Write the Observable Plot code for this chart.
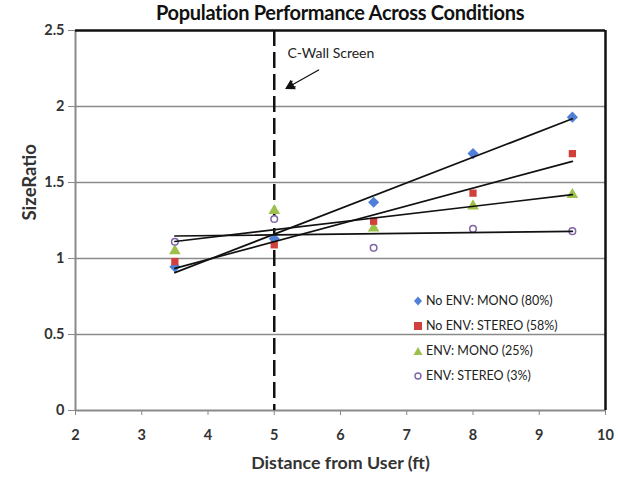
<!DOCTYPE html>
<html>
<head>
<meta charset="utf-8">
<script src="https://cdn.jsdelivr.net/npm/d3@7"></script>
<script src="https://cdn.jsdelivr.net/npm/@observablehq/plot@0.6"></script>
<style>
  html, body { margin: 0; padding: 0; background: #fff; }
  #wrap { position: relative; width: 618px; height: 482px; font-family: Lato, "Open Sans", sans-serif; }
  #title { height: 22px; line-height: 24px; text-align: center; font-weight: bold; font-size: 20px; color: #111; padding-left: 62px; letter-spacing: -0.3px; }
  #legend { position: absolute; left: 413px; top: 288px; font-size: 12.5px; color: #222; }
  #legend .row { height: 25px; display: flex; align-items: center; }
  #legend svg { margin-right: 3px; }
</style>
</head>
<body>
<div id="wrap">
  <div id="title">Population Performance Across Conditions</div>
  <div id="chart"></div>
  <div id="legend"></div>
</div>
<script>
const distances = [3.5, 5, 6.5, 8, 9.5];
const seriesNames = ["No ENV: MONO (80%)", "No ENV: STEREO (58%)", "ENV: MONO (25%)", "ENV: STEREO (3%)"];
const noEnvMono   = [0.945, 1.13, 1.37, 1.69, 1.93];
const noEnvStereo = [0.98, 1.09, 1.245, 1.43, 1.69];
const envMono     = [1.05, 1.315, 1.20, 1.345, 1.42];
const envStereo   = [1.11, 1.26, 1.07, 1.195, 1.18];
const symbols = ["diamond2", "square", "triangle", "circle"];
const colors  = ["#4f7fd6", "#d2403c", "#9cc04a", "#8064a8"];
const xTicks = [2, 3, 4, 5, 6, 7, 8, 9, 10];
const yTicks = [0, 0.5, 1, 1.5, 2, 2.5];
const screenX = 5;
const note = {label: "C-Wall Screen", x: 5.2, y: 2.35, ax1: 5.67, ay1: 2.24, ax2: 5.2, ay2: 2.125};

const all = [noEnvMono, noEnvStereo, envMono, envStereo];
const sizes = [5, 4.1, 4.3, 3.3];
const data = all.flatMap((vals, i) => vals.map((v, j) => ({series: seriesNames[i], idx: i, x: distances[j], y: v})));

const chart = Plot.plot({
  width: 618,
  height: 460,
  marginLeft: 75,
  marginRight: 13,
  marginTop: 8,
  marginBottom: 72,
  style: {fontFamily: "Lato, 'Open Sans', sans-serif", background: "white"},
  x: {domain: [2, 10], ticks: xTicks},
  y: {domain: [0, 2.5], ticks: yTicks},
  r: {type: "identity"},
  marks: [
    Plot.gridY(yTicks.filter(d => d > 0 && d < 2.5), {stroke: "#8a8a8a", strokeOpacity: 1, strokeWidth: 1.3}),
    Plot.axisX(xTicks, {tickSize: 5, tickPadding: 14, fontSize: 14.5, fontWeight: "bold", fill: "#333", stroke: "#888", label: null}),
    Plot.axisY(yTicks, {tickSize: 7, tickPadding: 4, fontSize: 14.5, fontWeight: "bold", fill: "#333", stroke: "#888", label: null, tickFormat: d => String(d)}),
    Plot.ruleY([0], {stroke: "#8a8a8a", strokeWidth: 2}),
    Plot.ruleX([2], {stroke: "#8a8a8a", strokeWidth: 2}),
    Plot.ruleY([2.5], {stroke: "#111", strokeWidth: 2.5}),
    Plot.ruleX([10], {stroke: "#111", strokeWidth: 2.5}),
    Plot.ruleX([screenX], {stroke: "#111", strokeWidth: 2.5, strokeDasharray: "16,6"}),
    Plot.dot(data, {x: "x", y: "y", symbol: d => symbols[d.idx], fill: d => d.idx === 3 ? "white" : colors[d.idx], stroke: d => d.idx === 3 ? colors[3] : "none", strokeWidth: 1.5, r: d => sizes[d.idx]}),
    Plot.linearRegressionY(data, {x: "x", y: "y", z: "series", stroke: "#111", strokeWidth: 1.7, ci: 0}),
    Plot.text([note], {x: "x", y: "y", text: "label", textAnchor: "start", fontSize: 14, fill: "#222"}),
    Plot.arrow([note], {x1: "ax1", y1: "ay1", x2: "ax2", y2: "ay2", stroke: "#111", strokeWidth: 1.3, headLength: 9, headAngle: 50}),
    Plot.dot([note], {x: "ax2", y: "ay2", symbol: "triangle", fill: "#111", r: 4, rotate: -119, dx: 3, dy: -1.5}),
    Plot.text(["SizeRatio"], {frameAnchor: "left", text: d => d, rotate: -90, dx: -45, fontSize: 18.5, fontWeight: "bold", fill: "#333"}),
    Plot.text(["Distance from User (ft)"], {frameAnchor: "bottom", text: d => d, dy: 58, fontSize: 17.8, fontWeight: "bold", fill: "#333"})
  ]
});
document.getElementById("chart").appendChild(chart);

const legend = document.getElementById("legend");
seriesNames.forEach((name, i) => {
  const row = document.createElement("div");
  row.className = "row";
  let shape;
  if (i === 0) shape = `<path d="M5,0.5 L9,5 L5,9.5 L1,5 Z" fill="${colors[0]}"/>`;
  else if (i === 1) shape = `<rect x="1" y="1" width="8" height="8" fill="${colors[1]}"/>`;
  else if (i === 2) shape = `<path d="M5,1 L9.5,9 L0.5,9 Z" fill="${colors[2]}"/>`;
  else shape = `<circle cx="5" cy="5" r="3" fill="white" stroke="${colors[3]}" stroke-width="1.4"/>`;
  row.innerHTML = `<svg width="10" height="10">${shape}</svg><span style="white-space:pre">${name}</span>`;
  legend.appendChild(row);
});
</script>
</body>
</html>
